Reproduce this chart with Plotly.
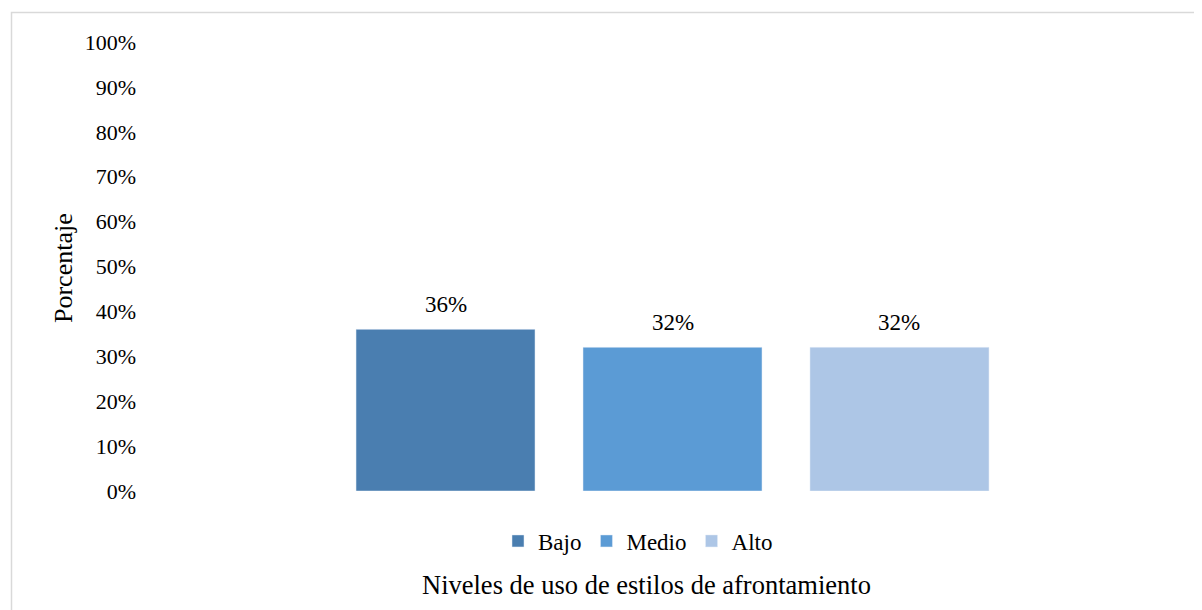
import plotly.graph_objects as go

series_names = ["Bajo", "Medio", "Alto"]
series_values = [0.36, 0.32, 0.32]
series_colors = ["#4A7EB0", "#5B9BD5", "#ADC6E6"]
tick_values = [i / 10 for i in range(11)]
tick_labels = [f"{i * 10}%" for i in range(11)]

FONT = "Liberation Serif, Times New Roman, serif"

# page body has an 8px margin; work in reference pixel coords
OFF = 8
W, H = 1202 - OFF, 610 - OFF
PL, PR, PT, PB = 145, 1200, 42, 491  # plot area in reference pixels
pw = PR - PL
ph = PB - PT


def px(X):
    return (X - PL) / pw


def py(Y):
    return (PB - Y) / ph


fig = go.Figure()
for name, val, col in zip(series_names, series_values, series_colors):
    fig.add_trace(go.Bar(x=[name], y=[val], name=name, marker_color=col))

annotations = [
    dict(x=name, y=val, xref="x", yref="y", text=f"{val:.0%}",
         showarrow=False, yanchor="bottom", yshift=10,
         font=dict(family=FONT, size=23, color="#000000"))
    for name, val in zip(series_names, series_values)
]
annotations += [
    dict(text="Porcentaje", textangle=-90, xref="paper", yref="paper",
         x=px(63), y=py(268), xanchor="center", yanchor="middle",
         showarrow=False, font=dict(family=FONT, size=26, color="#000000")),
    dict(text="Niveles de uso de estilos de afrontamiento", xref="paper",
         yref="paper", x=px(646), y=py(585), xanchor="center",
         yanchor="middle", showarrow=False,
         font=dict(family=FONT, size=26.5, color="#000000")),
]

fig.update_layout(
    width=W, height=H,
    margin=dict(l=PL - OFF, r=W - (PR - OFF), t=PT - OFF, b=H - (PB - OFF), pad=0),
    paper_bgcolor="white", plot_bgcolor="white",
    barmode="overlay", bargap=0.2115,
    font=dict(family=FONT, size=22, color="#000000"),
    showlegend=True,
    legend=dict(orientation="h", x=px(638), xanchor="center",
                y=py(541), yanchor="middle",
                font=dict(family=FONT, size=23, color="#000000"),
                itemwidth=30, tracegroupgap=0),
    xaxis=dict(type="category", range=[-1.324, 3.324], showticklabels=False,
               showgrid=False, zeroline=False, showline=False, ticks=""),
    yaxis=dict(range=[0, 1], tickvals=tick_values, ticktext=tick_labels,
               showgrid=False, zeroline=False, showline=False, ticks="",
               ticklabelstandoff=8,
               tickfont=dict(family=FONT, size=22, color="#000000")),
    annotations=annotations,
    shapes=[
        dict(type="rect", xref="paper", yref="paper",
             x0=px(11.5), x1=px(1230), y0=py(640), y1=py(12.5),
             line=dict(color="#D9D9D9", width=1.5),
             fillcolor="rgba(0,0,0,0)", layer="below"),
    ],
)

fig.write_html("out.html")
